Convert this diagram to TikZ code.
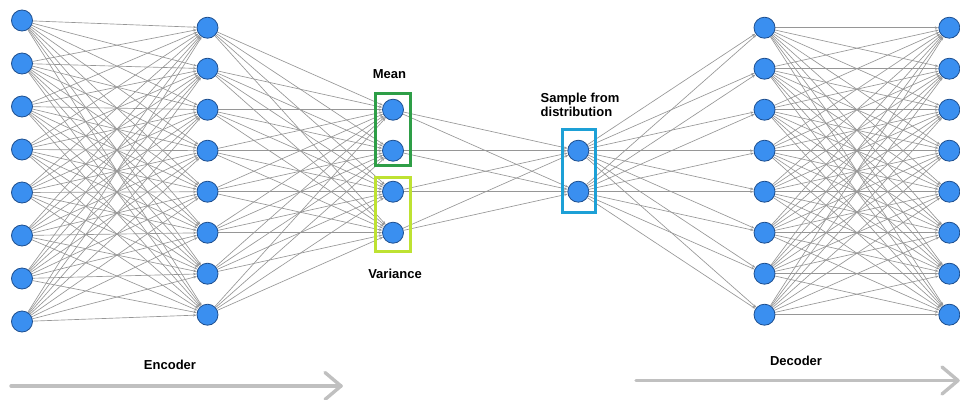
\documentclass[tikz,border=0pt]{standalone}
\usepackage{fontspec}
\setmainfont{Liberation Sans}
\usetikzlibrary{arrows.meta,backgrounds}
\definecolor{nodefill}{RGB}{58,143,240}
\definecolor{nodeedge}{RGB}{30,79,143}
\definecolor{linkgray}{RGB}{150,150,150}
\definecolor{flowgray}{RGB}{192,192,192}
\definecolor{meangreen}{RGB}{46,158,71}
\definecolor{varlime}{RGB}{190,226,50}
\definecolor{sampleblue}{RGB}{29,160,214}
\begin{document}
\begin{tikzpicture}[x=1pt,y=-1pt,
  neuron/.style={circle,fill=nodefill,draw=nodeedge,line width=0.8pt,minimum size=21pt,inner sep=0pt},
  link/.style={draw=linkgray,line width=0.65pt,-{Stealth[length=3.5pt,width=2.5pt]}},
  txt/.style={font=\fontsize{13}{14}\selectfont\bfseries,inner sep=0pt},
  groupbox/.style={line width=3pt,minimum width=34.4pt,inner sep=0pt},
  flow/.style={draw=flowgray,line width=3.4pt,line cap=round,line join=round}]
\useasboundingbox (0,0) rectangle (960,399);

% layers of neurons
\foreach \i in {1,...,8} {
  \node[neuron] (a\i) at (22,{20.5+43*(\i-1)}) {};
  \node[neuron] (b\i) at (207.5,{27.7+41*(\i-1)}) {};
  \node[neuron] (e\i) at (764.5,{27.7+41*(\i-1)}) {};
  \node[neuron] (f\i) at (949.3,{27.7+41*(\i-1)}) {};
}
\foreach \i in {1,...,4}
  \node[neuron] (c\i) at (393,{109.7+41*(\i-1)}) {};
\foreach \i in {1,2}
  \node[neuron] (d\i) at (578.3,{150.7+41*(\i-1)}) {};

% fully connected links
\begin{scope}[on background layer]
  \foreach \i in {1,...,8} \foreach \j in {1,...,8} {
    \draw[link] (a\i) -- (b\j);
    \draw[link] (e\i) -- (f\j);
  }
  \foreach \i in {1,...,8} \foreach \j in {1,...,4}
    \draw[link] (b\i) -- (c\j);
  \foreach \i in {1,...,4} \foreach \j in {1,2}
    \draw[link] (c\i) -- (d\j);
  \foreach \i in {1,2} \foreach \j in {1,...,8}
    \draw[link] (d\i) -- (e\j);
\end{scope}

% latent groups
\node[groupbox,draw=meangreen,minimum height=71.4pt] (meanbox) at (393,129.5) {};
\node[groupbox,draw=varlime,minimum height=74.3pt] (varbox) at (393,214.6) {};
\node[groupbox,draw=sampleblue,minimum width=32.7pt,minimum height=82.7pt] (samplebox) at (578.8,171.2) {};

% captions
\node[txt] (meanlbl) at (389.5,74) {Mean};
\node[txt] (varlbl) at (395,274) {Variance};
\node[txt,align=left,anchor=west] (samplelbl) at (540.5,104.5) {Sample from\\distribution};
\node[txt] (enclbl) at (170,365) {Encoder};
\node[txt] (declbl) at (796,360.5) {Decoder};

% direction arrows
\coordinate (encS) at (11,386);
\coordinate (encE) at (341,386);
\draw[flow] (encS) -- (encE);
\draw[flow] (encE) ++(-16,-13.5) -- (encE) -- ++(-16,13.5);
\coordinate (decS) at (636,380.5);
\coordinate (decE) at (958,380.5);
\draw[flow] (decS) -- (decE);
\draw[flow] (decE) ++(-16,-13.5) -- (decE) -- ++(-16,13.5);
\end{tikzpicture}
\end{document}
